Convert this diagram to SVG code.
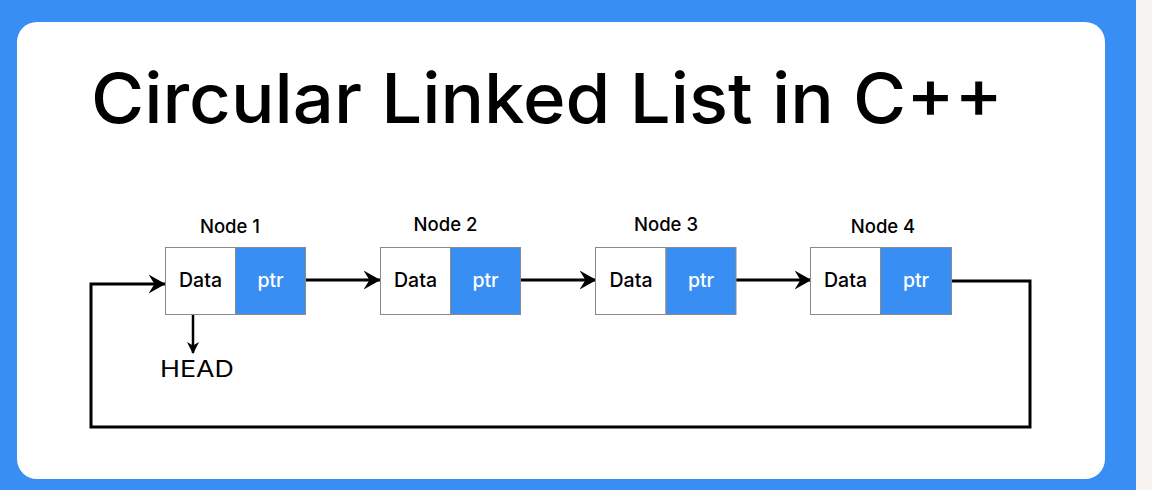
<svg xmlns="http://www.w3.org/2000/svg" width="1152" height="490" viewBox="0 0 1152 490">
<defs>
<style>
.lbl{font-family:Inter,"Open Sans","Liberation Sans",sans-serif;font-weight:500;fill:#000}
.box{stroke:#8a8a8a;stroke-width:1}
.data{fill:#fff}
.ptr{fill:#388ef3}
.t{font-family:Inter,"Open Sans","Liberation Sans",sans-serif;text-anchor:middle;font-weight:500}
.cell{font-size:19.5px}
.nl{font-size:18.5px}
.line{fill:none;stroke:#000;stroke-width:3}
</style>
<marker id="ah" markerWidth="12" markerHeight="12" viewBox="0 0 12 12" refX="11" refY="6" orient="auto" markerUnits="userSpaceOnUse">
<path d="M0,0 L12,6 L0,12 L3.5,6 Z" fill="#000"/>
</marker>
<marker id="ah2" markerWidth="17" markerHeight="19" viewBox="0 0 17 19" refX="16.5" refY="9.5" orient="auto" markerUnits="userSpaceOnUse">
<path d="M0,0 L17,9.5 L0,19 L6,9.5 Z" fill="#000"/>
</marker>
</defs>
<rect x="0" y="0" width="1152" height="490" fill="#f5f2ef"/>
<rect x="0" y="0" width="1136" height="490" fill="#388ef3"/>
<rect x="17" y="22" width="1088" height="457" rx="20" fill="#fff"/>
<text x="91" y="123" class="lbl" font-size="69" textLength="912" lengthAdjust="spacingAndGlyphs">Circular Linked List in C++</text>
<g id="connectors">
<line class="line" x1="306" y1="280" x2="380" y2="280" marker-end="url(#ah2)"/>
<line class="line" x1="521" y1="280" x2="596" y2="280" marker-end="url(#ah2)"/>
<line class="line" x1="736" y1="280" x2="811" y2="280" marker-end="url(#ah2)"/>
<polyline class="line" points="952,281 1030,281 1030,427 91,427 91,284 165,284" marker-end="url(#ah2)"/>
<line x1="193" y1="314" x2="193" y2="353" stroke="#000" stroke-width="2.5" marker-end="url(#ah)"/>
</g>
<g id="node1">
<text x="230" y="233" class="t nl">Node 1</text>
<rect class="box data" x="165.5" y="247.5" width="70" height="67"/>
<rect class="box ptr" x="235.5" y="247.5" width="70" height="67"/>
<text x="200.5" y="287" class="t cell">Data</text>
<text x="270.5" y="287" class="t cell" fill="#fff">ptr</text>
</g>
<g id="node2">
<text x="445.5" y="231" class="t nl">Node 2</text>
<rect class="box data" x="380.5" y="247.5" width="70" height="67"/>
<rect class="box ptr" x="450.5" y="247.5" width="70" height="67"/>
<text x="415.5" y="287" class="t cell">Data</text>
<text x="485.5" y="287" class="t cell" fill="#fff">ptr</text>
</g>
<g id="node3">
<text x="666" y="231" class="t nl">Node 3</text>
<rect class="box data" x="595.5" y="247.5" width="70.5" height="67"/>
<rect class="box ptr" x="666" y="247.5" width="70" height="67"/>
<text x="631" y="287" class="t cell">Data</text>
<text x="701" y="287" class="t cell" fill="#fff">ptr</text>
</g>
<g id="node4">
<text x="883" y="233" class="t nl">Node 4</text>
<rect class="box data" x="810.5" y="247.5" width="70" height="67"/>
<rect class="box ptr" x="880.5" y="247.5" width="71" height="67"/>
<text x="845.5" y="287" class="t cell">Data</text>
<text x="916" y="287" class="t cell" fill="#fff">ptr</text>
</g>
<g id="head">
<text x="197" y="377" class="t" style="font-size:23px;font-weight:400" textLength="74" lengthAdjust="spacingAndGlyphs">HEAD</text>
</g>
</svg>
